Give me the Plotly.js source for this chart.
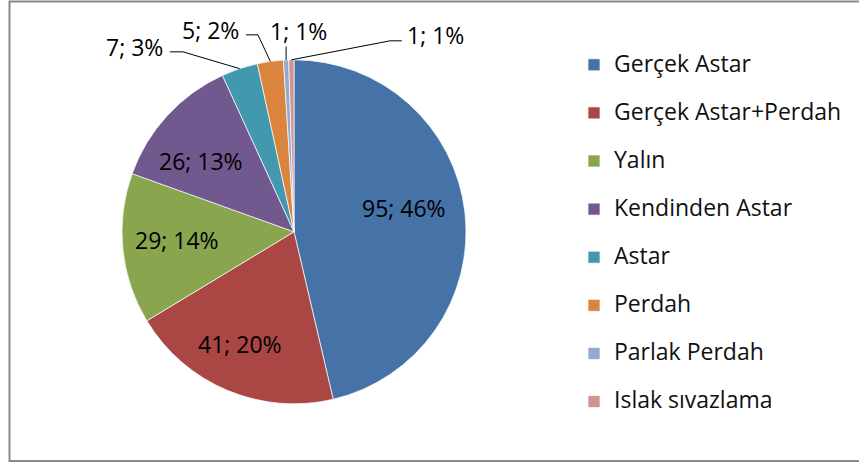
<!DOCTYPE html>
<html><head><meta charset="utf-8">
<script src="https://cdn.plot.ly/plotly-3.0.1.min.js"></script>
<style>html,body{margin:0;padding:0;background:#fff}#chart{width:859px;height:466px}</style>
</head><body><div id="chart"></div>
<script>
// ---- data ----
const categories = ['Gerçek Astar', 'Gerçek Astar+Perdah', 'Yalın', 'Kendinden Astar', 'Astar', 'Perdah', 'Parlak Perdah', 'Islak sıvazlama'];
const counts = [95, 41, 29, 26, 7, 5, 1, 1];
const percents = [46, 20, 14, 13, 3, 2, 1, 1];
const colors = ['#4572A7', '#AA4643', '#89A54E', '#71588F', '#4198AF', '#DB843D', '#93A9CF', '#D19392'];

// ---- layout geometry (pixels) ----
const W = 859, H = 466;
const cx = 294, cy = 231.8, R = 172;
const FONT = '"Open Sans", "Noto Sans", sans-serif';
const px = x => x / W;
const py = y => 1 - y / H;

const total = counts.reduce((a, b) => a + b, 0);
let cum = 0;
const mids = counts.map(v => { const m = (cum + v / 2) / total * 2 * Math.PI; cum += v; return m; });
const edge = i => [cx + R * Math.sin(mids[i]), cy - R * Math.cos(mids[i])];

// inside label nudges (px) and outside label styles: text offset, leader path offsets (relative to slice edge)
const insideNudge = {0: [-6, -10], 1: [-9, 4], 2: [-1, -3], 3: [-7, 8]};
const outside = {
  4: {t: [-104.7, -21.8], path: [[-69.7, -16.8], [-56.7, -16.8]]},
  5: {t: [-59.4, -31.6], path: [[-24.4, -26.6], [-12.4, -26.6]]},
  6: {t: [12.9, -28.7], path: [[0, -13.5]]},
  7: {t: [143.7, -25], path: [[110.4, -19], [98.7, -19]]}
};

const annotations = [];
const shapes = [];
counts.forEach((v, i) => {
  const label = v + '; ' + percents[i] + '%';
  let tx, ty;
  if (outside[i]) {
    const [ex, ey] = edge(i);
    tx = ex + outside[i].t[0]; ty = ey + outside[i].t[1];
    const pts = outside[i].path.map(p => [ex + p[0], ey + p[1]]).concat([[ex, ey]]);
    shapes.push({type: 'path', xref: 'paper', yref: 'paper',
      path: pts.map((p, k) => (k ? 'L' : 'M') + px(p[0]).toFixed(5) + ',' + py(p[1]).toFixed(5)).join(' '),
      line: {color: '#000', width: 1}});
  } else {
    tx = cx + 0.68 * R * Math.sin(mids[i]) + insideNudge[i][0];
    ty = cy - 0.68 * R * Math.cos(mids[i]) + insideNudge[i][1];
  }
  annotations.push({xref: 'paper', yref: 'paper', x: px(tx), y: py(ty), xanchor: 'center', yanchor: 'middle',
    text: label, showarrow: false, font: {family: FONT, size: 23, color: '#000'}});
});

// chart border
shapes.push({type: 'rect', xref: 'paper', yref: 'paper', x0: px(9.5), x1: 1.05, y0: py(461), y1: py(1.5),
  line: {color: '#8a8a8a', width: 2}, fillcolor: 'rgba(0,0,0,0)'});

const trace = {
  type: 'pie',
  labels: categories.map(c => '<span style="font-size:23px">' + c + '</span><br>\u00a0'),
  values: counts,
  sort: false,
  direction: 'clockwise',
  rotation: 0,
  textinfo: 'none',
  hoverinfo: 'label+value+percent',
  marker: {colors: colors, line: {color: 'rgba(255,255,255,0.7)', width: 1}},
  domain: {x: [px(cx - R), px(cx + R)], y: [py(cy + R), py(cy - R)]}
};

const layout = {
  width: W, height: H,
  margin: {l: 0, r: 0, t: 0, b: 0},
  paper_bgcolor: '#fff',
  showlegend: true,
  legend: {x: px(574), xanchor: 'left', y: py(47), yanchor: 'top', valign: 'top',
    font: {family: FONT, size: 17.35, color: '#111'}, bgcolor: 'rgba(0,0,0,0)'},
  annotations: annotations,
  shapes: shapes,
  font: {family: FONT}
};

Plotly.newPlot('chart', [trace], layout, {displayModeBar: false, staticPlot: true});
</script>
</body></html>
